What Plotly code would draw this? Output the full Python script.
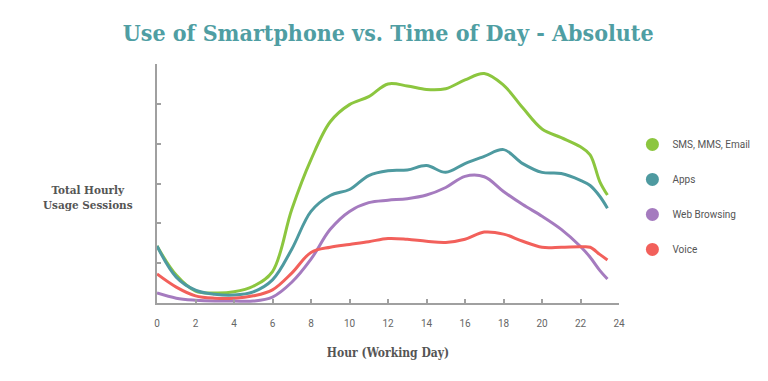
import plotly.graph_objects as go

hours = [0, 1, 2, 3, 4, 5, 6, 7, 8, 9, 10, 11, 12, 13, 14, 15, 16, 17, 18, 19, 20, 21, 22, 22.5, 23, 23.4]

sms = [1.43, 0.70, 0.30, 0.25, 0.28, 0.42, 0.79, 2.35, 3.60, 4.55, 4.98, 5.18, 5.50, 5.45, 5.36, 5.38,
       5.60, 5.76, 5.47, 4.90, 4.37, 4.15, 3.92, 3.72, 3.05, 2.71]
apps = [1.43, 0.65, 0.32, 0.22, 0.20, 0.28, 0.58, 1.35, 2.30, 2.70, 2.85, 3.20, 3.32, 3.34, 3.45, 3.28,
        3.50, 3.68, 3.85, 3.50, 3.28, 3.25, 3.08, 2.95, 2.68, 2.38]
web = [0.25, 0.12, 0.07, 0.05, 0.05, 0.05, 0.15, 0.52, 1.10, 1.85, 2.30, 2.52, 2.58, 2.62, 2.71, 2.90,
       3.18, 3.17, 2.80, 2.47, 2.18, 1.85, 1.42, 1.15, 0.82, 0.60]
voice = [0.73, 0.40, 0.18, 0.12, 0.12, 0.18, 0.33, 0.75, 1.27, 1.40, 1.47, 1.54, 1.62, 1.60, 1.55, 1.52,
         1.60, 1.78, 1.73, 1.55, 1.40, 1.40, 1.41, 1.40, 1.22, 1.08]

series_names = ["SMS, MMS, Email", "Apps", "Web Browsing", "Voice"]
series_values = [sms, apps, web, voice]
colors = ["#8cc63f", "#4e9aa0", "#a57bbf", "#f2605b"]

x_ticks = list(range(0, 25, 2))

SLAB = "DejaVu Serif Condensed, DejaVu Serif, serif"

fig = go.Figure()
for name, vals, col in zip(series_names, series_values, colors):
    fig.add_trace(go.Scatter(x=hours, y=vals, mode="lines", name=name,
                             line=dict(color=col, width=3, shape="spline", smoothing=1.0),
                             showlegend=False, hoverinfo="skip"))
for i, (name, col) in enumerate(zip(series_names, colors)):
    fig.add_trace(go.Scatter(x=[None], y=[None], mode="markers", name=name,
                             marker=dict(color=col, size=13), legendgroup=str(i)))

fig.update_layout(
    width=768, height=381,
    margin=dict(l=149, r=157, t=56, b=86, autoexpand=False),
    paper_bgcolor="white", plot_bgcolor="white",
    title=dict(text="<b>Use of Smartphone vs. Time of Day - Absolute</b>",
               font=dict(family=SLAB, size=23, color="#4f9ea3"),
               x=0.495, xanchor="center", y=0.934, yanchor="middle"),
    legend=dict(x=1.029, y=0.724, xanchor="left", yanchor="top",
                font=dict(family="Roboto, sans-serif", size=10, color="#555555"),
                tracegroupgap=16, itemsizing="trace"),
    xaxis=dict(range=[0, 24], tickvals=x_ticks, ticktext=[str(t) for t in x_ticks],
               showgrid=False, zeroline=False, showline=True, linecolor="#a0a0a0", linewidth=2,
               ticks="inside", ticklen=4, tickcolor="#a0a0a0", tickwidth=1.5,
               ticklabelstandoff=10,
               tickfont=dict(family="Roboto, sans-serif", size=10, color="#666666"),
               title=dict(text="<b>Hour (Working Day)</b>", standoff=21,
                          font=dict(family=SLAB, size=12, color="#555555"))),
    yaxis=dict(range=[0, 6], dtick=1, showticklabels=False,
               showgrid=False, zeroline=False, showline=True, linecolor="#a0a0a0", linewidth=2,
               ticks="inside", ticklen=4, tickcolor="#a0a0a0", tickwidth=1.5),
    annotations=[dict(text="<b>Total Hourly<br>Usage Sessions</b>", xref="paper", yref="paper",
                      x=-0.150, y=0.44, xanchor="center", yanchor="middle", showarrow=False,
                      font=dict(family=SLAB, size=11.6, color="#555555"))],
)
fig.write_html("out.html")
